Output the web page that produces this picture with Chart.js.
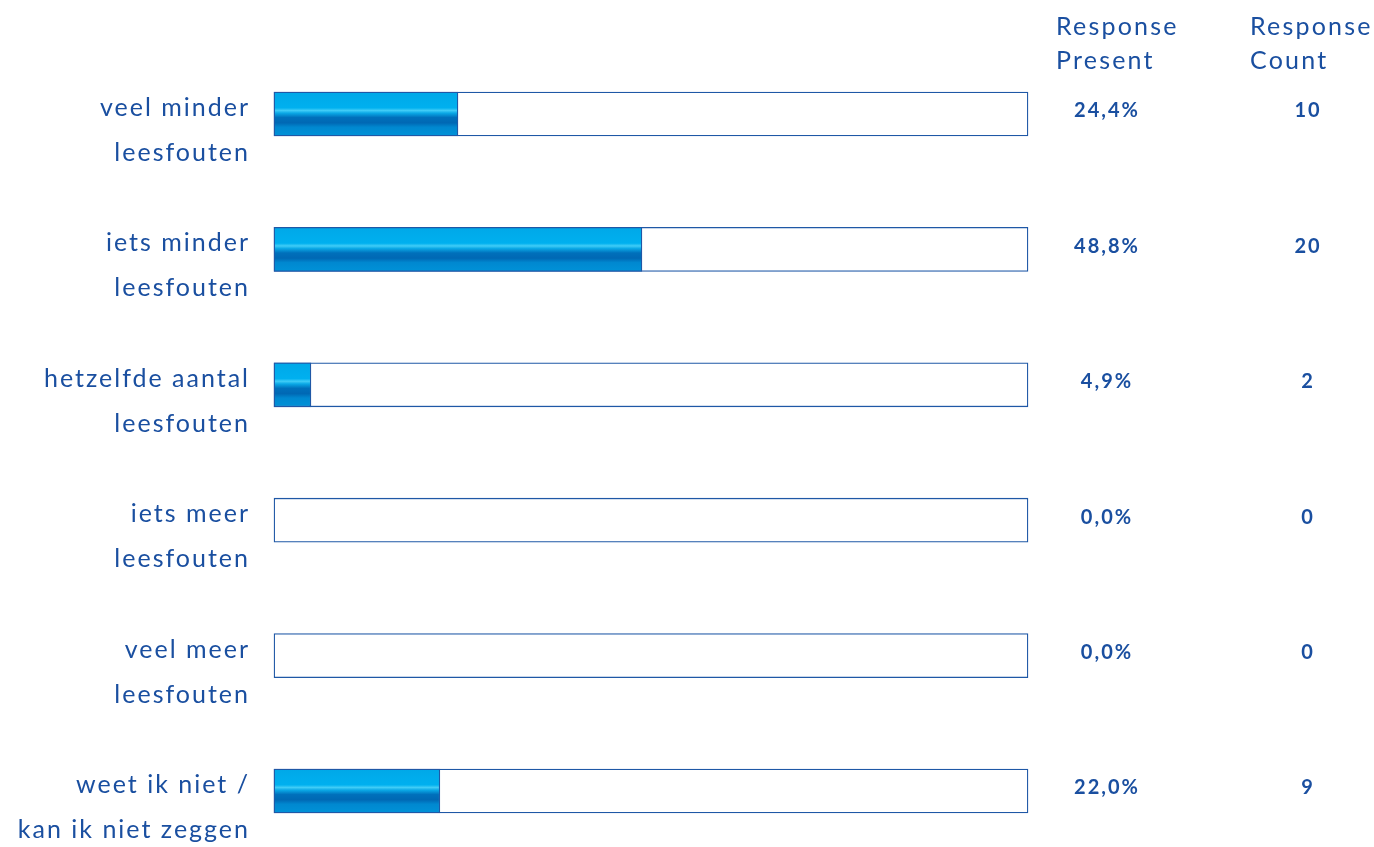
<!DOCTYPE html>
<html><head><meta charset="utf-8">
<script src="https://cdn.jsdelivr.net/npm/chart.js@4.4.1/dist/chart.umd.min.js"></script>
<style>html,body{margin:0;padding:0;background:#fff;}#wrap{width:1374px;height:847px;position:relative;}</style>
</head><body><div id="wrap"><canvas id="c" width="1374" height="847"></canvas></div>
<script>
const categories = [
  ["veel minder", "leesfouten"],
  ["iets minder", "leesfouten"],
  ["hetzelfde aantal", "leesfouten"],
  ["iets meer", "leesfouten"],
  ["veel meer", "leesfouten"],
  ["weet ik niet /", "kan ik niet zeggen"]
];
const percents = [24.4, 48.8, 4.9, 0.0, 0.0, 22.0];
const counts = [10, 20, 2, 0, 0, 9];
const percentLabels = ["24,4%", "48,8%", "4,9%", "0,0%", "0,0%", "22,0%"];
const headers = [["Response", "Present"], ["Response", "Count"]];
const track = categories.map(() => 100);

const TEXT = '#1a4fa0';
const BAR_H = 44;

function barGradient(ctx) {
  const chart = ctx.chart;
  if (!chart.chartArea || !chart.scales.y) return '#00aeef';
  const c = chart.scales.y.getPixelForValue(ctx.dataIndex);
  const top = c - BAR_H / 2;
  const g = chart.ctx.createLinearGradient(0, top, 0, top + BAR_H);
  g.addColorStop(0, '#00a8e8');
  g.addColorStop(0.36, '#00b0ef');
  g.addColorStop(0.42, '#40ccf6');
  g.addColorStop(0.48, '#0aa8e6');
  g.addColorStop(0.58, '#0070bb');
  g.addColorStop(0.70, '#0068b4');
  g.addColorStop(0.80, '#0088d0');
  g.addColorStop(1, '#0092d8');
  return g;
}

const textPlugin = {
  id: 'textPlugin',
  afterDraw(chart) {
    const ctx = chart.ctx;
    const y = chart.scales.y;
    ctx.save();
    ctx.fillStyle = TEXT;
    ctx.textBaseline = 'middle';
    // category labels
    ctx.font = '25px Lato';
    ctx.letterSpacing = '2px';
    ctx.textAlign = 'right';
    categories.forEach((lab, i) => {
      const c = y.getPixelForValue(i);
      lab.forEach((line, j) => ctx.fillText(line, 250, c - 6 + j * 45));
    });
    // headers
    ctx.textAlign = 'left';
    ctx.font = '25px Lato';
    ctx.letterSpacing = '2.2px';
    headers[0].forEach((line, j) => ctx.fillText(line, 1056, 27 + j * 34));
    headers[1].forEach((line, j) => ctx.fillText(line, 1250, 27 + j * 34));
    // values
    ctx.font = 'bold 20px Lato';
    ctx.letterSpacing = '2px';
    ctx.textAlign = 'center';
    percentLabels.forEach((t, i) => {
      const c = y.getPixelForValue(i);
      ctx.fillText(t, 1107, c - 3);
    });
    counts.forEach((v, i) => {
      const c = y.getPixelForValue(i);
      ctx.fillText(String(v), 1308, c - 3);
    });
    ctx.restore();
  }
};

new Chart(document.getElementById('c'), {
  type: 'bar',
  data: {
    labels: categories,
    datasets: [
      {
        label: 'Response Present',
        data: percents,
        backgroundColor: barGradient,
        borderColor: '#1f58a6',
        borderWidth: 1.3,
        borderSkipped: false,
        barThickness: BAR_H,
        grouped: false,
        clip: false
      },
      {
        label: 'track',
        data: track,
        backgroundColor: '#ffffff',
        borderColor: '#1f58a6',
        borderWidth: 1.3,
        borderSkipped: false,
        barThickness: BAR_H,
        grouped: false,
        clip: false
      }
    ]
  },
  options: {
    indexAxis: 'y',
    responsive: false,
    animation: false,
    layout: { padding: { left: 274, right: 346, top: 114, bottom: 56 } },
    scales: {
      x: { display: false, min: 0, max: 100 },
      y: { display: false, offset: false }
    },
    plugins: { legend: { display: false }, tooltip: { enabled: false } }
  },
  plugins: [textPlugin]
});
</script></body></html>
